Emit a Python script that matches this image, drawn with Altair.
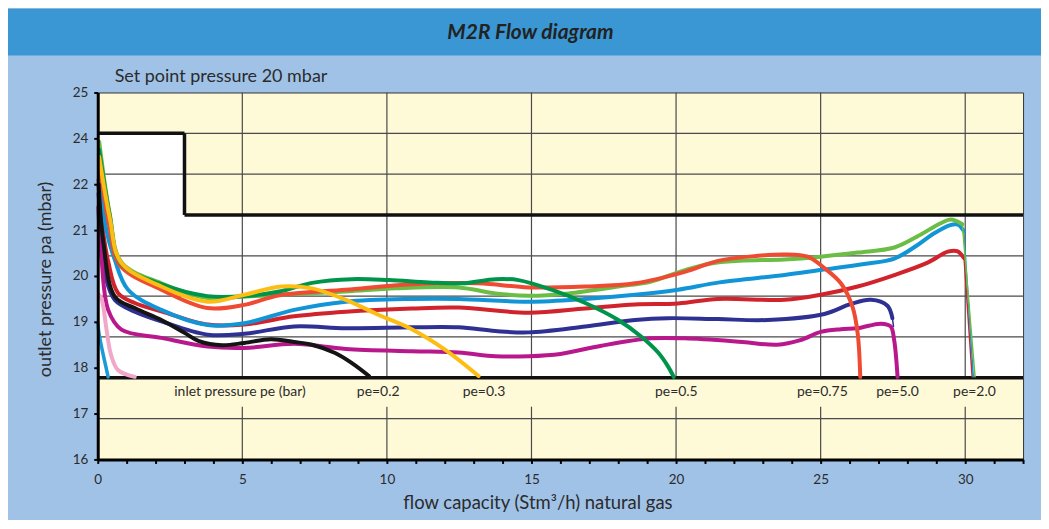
import altair as alt
import pandas as pd

# ---------------- data ----------------
# flow capacity (Stm3/h) and outlet pressure (mbar) per curve
lgreen_x = [0.05, 0.41, 0.82, 2.2, 3.79, 5.07, 6.28, 8.58, 10.3, 12.48, 13.75, 14.9, 16.28, 18.0, 19.14, 20.07,
            21.2, 22.2, 23.75, 25.0, 26.28, 27.55, 28.34, 29.15, 29.5, 29.9]
lgreen_y = [23.85, 21.37, 20.30, 19.84, 19.52, 19.55, 19.59, 19.66, 19.73, 19.75, 19.62, 19.57, 19.62, 19.77, 19.88, 20.08,
            20.27, 20.33, 20.36, 20.42, 20.51, 20.62, 20.86, 21.15, 21.23, 21.13]
lgreen_drop_x = [29.9, 30.34]
lgreen_drop_y = [21.13, 17.8]

dgreen_x = [0.05, 0.42, 0.8, 2.2, 3.79, 5.07, 6.28, 7.41, 8.79, 10.07, 11.45, 12.59, 13.76, 14.55, 15.69, 16.86,
            18.0, 18.79, 19.38, 19.72, 19.92]
dgreen_y = [23.5, 21.3, 20.28, 19.82, 19.56, 19.56, 19.66, 19.85, 19.93, 19.91, 19.86, 19.84, 19.93, 19.91, 19.70, 19.41,
            19.04, 18.68, 18.33, 18.03, 17.80]

orange_x = [0.05, 0.4, 0.76, 2.2, 3.79, 5.07, 6.28, 8.58, 10.86, 13.17, 14.9, 16.86, 18.58, 20.3, 21.45, 22.83,
            23.75, 24.55, 25.13, 25.7, 26.1, 26.28, 26.37]
orange_y = [23.0, 21.1, 20.24, 19.70, 19.30, 19.37, 19.58, 19.70, 19.82, 19.84, 19.75, 19.77, 19.84, 20.09, 20.33, 20.44,
            20.47, 20.42, 20.17, 19.84, 19.33, 18.75, 17.80]

yellow_x = [0.05, 0.42, 0.8, 2.2, 3.79, 5.07, 6.34, 7.41, 8.58, 9.72, 10.86, 12.02, 13.17]
yellow_y = [23.2, 21.25, 20.3, 19.77, 19.44, 19.59, 19.77, 19.73, 19.48, 19.15, 18.84, 18.39, 17.82]

blue_x = [0.05, 0.3, 0.59, 1.05, 2.2, 3.8, 5.07, 6.79, 8.58, 10.86, 12.48, 14.9, 16.86, 18.58, 20.07, 21.5,
          23.75, 25.0, 26.5, 27.55, 28.34, 28.9, 29.48, 29.75, 29.95]
blue_y = [22.8, 21.0, 20.35, 19.70, 19.26, 18.93, 18.97, 19.26, 19.44, 19.50, 19.50, 19.44, 19.50, 19.59, 19.70, 19.86,
          20.02, 20.13, 20.26, 20.38, 20.67, 20.92, 21.11, 21.12, 20.98]
blue_drop_x = [29.95, 30.28]
blue_drop_y = [20.98, 17.8]

red_x = [0.03, 0.2, 0.36, 0.7, 1.28, 2.2, 3.8, 5.07, 6.79, 8.58, 10.86, 12.48, 14.9, 16.86, 18.58, 20.07,
         21.45, 23.75, 25.0, 26.28, 27.55, 28.7, 29.4, 29.72, 29.96]
red_y = [22.2, 20.9, 20.32, 19.63, 19.41, 19.23, 18.94, 18.94, 19.12, 19.22, 19.29, 19.31, 19.20, 19.29, 19.38, 19.40,
         19.50, 19.48, 19.59, 19.77, 20.02, 20.29, 20.53, 20.54, 20.39]
red_drop_x = [29.96, 30.24]
red_drop_y = [20.39, 17.8]

navy_x = [0.03, 0.15, 0.3, 0.59, 1.28, 2.2, 3.8, 5.07, 6.79, 8.58, 10.86, 12.48, 13.75, 14.9, 16.86, 18.58,
          19.72, 21.45, 23.17, 25.13, 26.05, 26.74, 27.31, 27.48]
navy_y = [21.8, 20.8, 19.91, 19.48, 19.22, 19.01, 18.72, 18.74, 18.90, 18.86, 18.88, 18.88, 18.80, 18.77, 18.90, 19.04,
          19.08, 19.06, 19.04, 19.17, 19.39, 19.48, 19.35, 19.08]
navy_drop_x = [27.48, 27.52]
navy_drop_y = [19.08, 18.9]

magenta_x = [0.02, 0.12, 0.36, 0.82, 2.2, 3.8, 5.07, 6.79, 8.58, 10.86, 12.48, 13.75, 14.9, 16.0, 17.42, 19.14,
             20.3, 22.3, 23.5, 24.3, 25.0, 25.7, 26.28, 27.08, 27.42, 27.54, 27.66]
magenta_y = [21.5, 20.5, 19.26, 18.83, 18.65, 18.46, 18.43, 18.52, 18.41, 18.36, 18.33, 18.25, 18.25, 18.30, 18.48, 18.64,
             18.64, 18.56, 18.50, 18.60, 18.78, 18.84, 18.86, 18.96, 18.90, 18.61, 17.80]

black_x = [0.03, 0.2, 0.59, 1.28, 2.2, 3.0, 3.5, 4.3, 5.07, 5.99, 6.79, 7.41, 8.21, 8.79, 9.38]
black_y = [22.0, 20.7, 19.55, 19.30, 19.04, 18.76, 18.58, 18.49, 18.54, 18.62, 18.56, 18.50, 18.32, 18.10, 17.82]

pink_x = [0.0, 0.13, 0.3, 0.45, 0.7, 1.28]
pink_y = [19.62, 19.5, 18.85, 18.3, 17.95, 17.8]

cyan_short_x = [0.0, 0.07, 0.36]
cyan_short_y = [18.95, 18.65, 17.8]

# inlet pressure labels in the lower band
pe_labels = ["inlet pressure pe (bar)", "pe=0.2", "pe=0.3", "pe=0.5", "pe=0.75", "pe=5.0", "pe=2.0"]
pe_label_x = [4.92, 9.70, 13.36, 20.01, 25.06, 27.66, 30.32]
pe_label_y = 17.46

# axis ticks
y_tick_values = [16, 17, 18, 19, 20, 21, 22, 24, 25]
x_tick_values = list(range(0, 33))

# limit lines / grid (mbar)
lower_limit = 17.78
upper_limit = 21.33
max_limit = 24.11
max_limit_flow = 3
grid_y = [16.89, 18.67, 19.56, 20.44, 22.44, 24.11]
grid_x = [5, 10, 15, 20, 25, 30]

# ---------------- styling ----------------
FONT = "Lato"
W, H = 928, 368
CREAM = "#fef9d7"
LIGHT_BLUE = "#a1c2e7"
BAR_BLUE = "#3a97d3"
TXT = "#2b2b2b"
INTERP = "catmull-rom"

xscale = alt.Scale(domain=[0, 32], zero=False, nice=False)
yscale = alt.Scale(domain=[16, 22, 24, 25], range=[H, 92, 46, 0], zero=False, nice=False)

x_axis = alt.Axis(values=x_tick_values, labelExpr="datum.value % 5 == 0 ? datum.label : ''",
                  grid=False, domainColor="black", domainWidth=3, tickColor="black", tickWidth=2,
                  tickSize=4, labelFont=FONT, labelFontSize=13.5, labelColor=TXT, labelPadding=9,
                  labelFlush=False, labelOverlap=False,
                  title="flow capacity (Stm³/h) natural gas", titleFont=FONT, titleFontSize=18.5,
                  titleFontWeight="normal", titleColor=TXT, titleX=441, titleY=43,
                  titleBaseline="middle", titleAlign="center", zindex=1)
y_axis = alt.Axis(values=y_tick_values, format="d", grid=False, domainColor="black", domainWidth=3,
                  tickColor="black", tickWidth=2, tickSize=4, labelFont=FONT, labelFontSize=13.5,
                  labelColor=TXT, labelPadding=6, labelFlush=False, labelOverlap=False,
                  title="outlet pressure pa (mbar)", titleFont=FONT, titleFontSize=18,
                  titleFontWeight="normal", titleColor=TXT, titleX=-52, titleY=187, titleAngle=-90,
                  titleBaseline="middle", titleAlign="center", zindex=1)


def X(f):
    return alt.X(f, type="quantitative", scale=xscale, axis=x_axis)


def Y(f):
    return alt.Y(f, type="quantitative", scale=yscale, axis=y_axis)


one = pd.DataFrame({"a": [0]})

# white regions
white_df = pd.DataFrame({"x0": [0, 0], "x1": [32, max_limit_flow],
                         "y0": [lower_limit, upper_limit], "y1": [upper_limit, max_limit]})
white = alt.Chart(white_df).mark_rect(color="white").encode(x=X("x0"), x2="x1", y=Y("y0"), y2="y1")

# grid lines
hgrid = alt.Chart(pd.DataFrame({"y": grid_y, "x0": 0, "x1": 32})).mark_rule(
    color="#4a4a4a", strokeWidth=1.2).encode(x=X("x0"), x2="x1", y=Y("y"))
vg_rows = []
for gx in grid_x:
    vg_rows.append({"x": gx, "y0": lower_limit, "y1": 25})
    vg_rows.append({"x": gx, "y0": 16, "y1": 17.15})
vgrid = alt.Chart(pd.DataFrame(vg_rows)).mark_rule(color="#4a4a4a", strokeWidth=1.2).encode(
    x=X("x"), y=Y("y0"), y2="y1")

# thick limit lines
thick_df = pd.DataFrame({
    "x0": [0, max_limit_flow, 0, max_limit_flow],
    "x1": [32, 32, max_limit_flow, max_limit_flow],
    "y0": [lower_limit, upper_limit, max_limit, upper_limit],
    "y1": [lower_limit, upper_limit, max_limit, max_limit],
})
thick = alt.Chart(thick_df).mark_rule(color="#111", strokeWidth=3.5).encode(
    x=X("x0"), x2="x1", y=Y("y0"), y2="y1")

# curves (bottom to top)
curves = [
    (red_x, red_y, "#d0232b", 4),
    (navy_x, navy_y, "#2e3192", 4),
    (magenta_x, magenta_y, "#b8188b", 4),
    (blue_x, blue_y, "#1295d6", 4),
    (lgreen_x, lgreen_y, "#6bbd45", 4),
    (orange_x, orange_y, "#ef4b33", 4),
    (dgreen_x, dgreen_y, "#00944b", 4),
    (yellow_x, yellow_y, "#fdbd12", 4),
    (black_x, black_y, "#141414", 4),
    (pink_x, pink_y, "#f1a7c7", 4),
    (cyan_short_x, cyan_short_y, "#1a9ad6", 3.5),
    (red_drop_x, red_drop_y, "#d0232b", 1.5),
    (blue_drop_x, blue_drop_y, "#1295d6", 1.5),
    (lgreen_drop_x, lgreen_drop_y, "#6bbd45", 1.5),
    (navy_drop_x, navy_drop_y, "#2e3192", 1.5),
]
curve_layers = []
for cx, cy, col, sw in curves:
    df = pd.DataFrame({"x": cx, "y": cy})
    curve_layers.append(
        alt.Chart(df).mark_line(interpolate=INTERP, color=col, strokeWidth=sw, strokeCap="round",
                                strokeJoin="round").encode(x=X("x"), y=Y("y"))
    )

# lower band labels
lab_df = pd.DataFrame({"x": pe_label_x, "y": pe_label_y, "t": pe_labels})
labels = alt.Chart(lab_df).mark_text(font=FONT, fontSize=14, color=TXT, baseline="middle").encode(
    x=X("x"), y=Y("y"), text="t:N")

# header bar, title and subtitle
bar = alt.Chart(one).mark_rect(color=BAR_BLUE).encode(
    x=alt.value(-90), x2=alt.value(946), y=alt.value(-84), y2=alt.value(-37))
title = alt.Chart(one).mark_text(font=FONT, fontSize=21, fontWeight="bold", fontStyle="italic",
                                 color="#222", align="center", baseline="middle").encode(
    x=alt.value(434), y=alt.value(-60), text=alt.value("M2R Flow diagram"))
subtitle = alt.Chart(one).mark_text(font=FONT, fontSize=18, color=TXT, align="left",
                                    baseline="middle").encode(
    x=alt.value(17), y=alt.value(-16), text=alt.value("Set point pressure 20 mbar"))

chart = alt.layer(white, hgrid, vgrid, thick, *curve_layers, labels, bar, title, subtitle).properties(
    width=W, height=H, background=LIGHT_BLUE,
    padding={"left": 90, "top": 84, "right": 18, "bottom": 60},
    autosize=alt.AutoSizeParams(type="none"),
).configure_view(fill=CREAM, stroke="#333", strokeWidth=1)

chart.save("out.html", embed_options={"renderer": "svg", "actions": False})
